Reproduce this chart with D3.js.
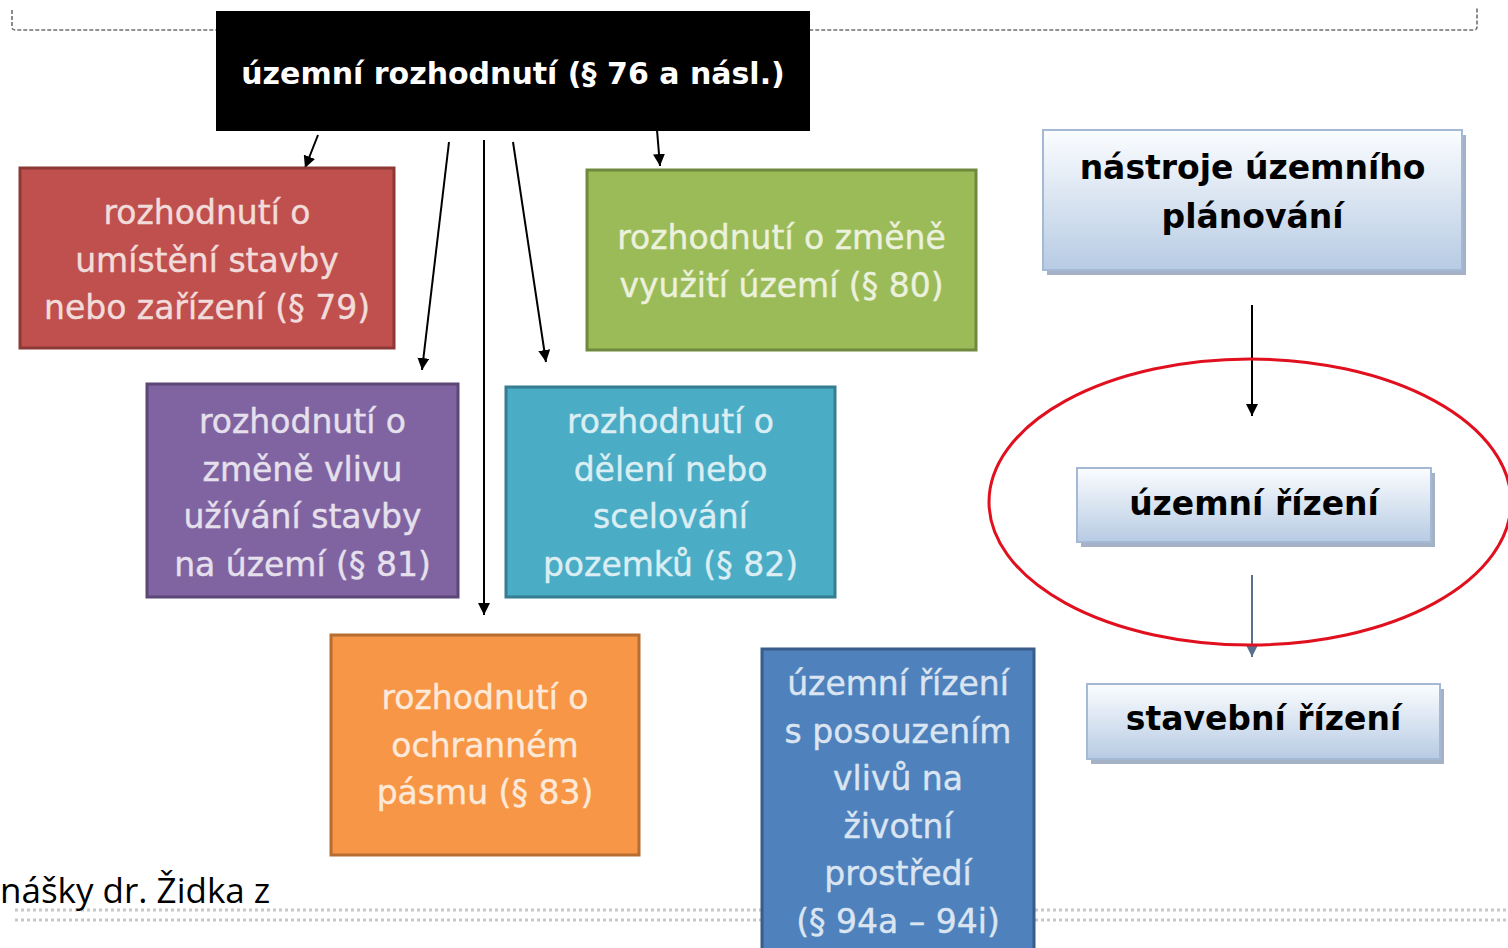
<!DOCTYPE html>
<html><head><meta charset="utf-8">
<script src="https://cdn.jsdelivr.net/npm/d3@7"></script>
<style>html,body{margin:0;padding:0;background:#fff;overflow:hidden}</style>
</head><body>
<svg id="c" width="1508" height="948"></svg>
<script>
// ---- content ----
const topLabel = "územní rozhodnutí (§ 76 a násl.)";
const boxLabels = [
  ["rozhodnutí o","umístění stavby","nebo zařízení (§ 79)"],
  ["rozhodnutí o změně","využití území (§ 80)"],
  ["rozhodnutí o","změně vlivu","užívání stavby","na území (§ 81)"],
  ["rozhodnutí o","dělení nebo","scelování","pozemků (§ 82)"],
  ["rozhodnutí o","ochranném","pásmu (§ 83)"],
  ["územní řízení","s posouzením","vlivů na","životní","prostředí","(§ 94a – 94i)"]
];
const processLabels = [["nástroje územního","plánování"],["územní řízení"],["stavební řízení"]];
const footerText = "nášky dr. Židka z";

// ---- layout & style ----
const boxRects = [[20,168,374,180],[587,170,389,180],[147,384,311,213],[506,387,329,210],[331,635,308,220],[762,649,272,310]];
const boxFill = ["#C0504D","#9BBB59","#8064A2","#4BACC6","#F79646","#4F81BD"];
const boxStroke = ["#8C3836","#71893F","#5C4776","#357D91","#B66D31","#385D8A"];
const boxText = ["#F2DCDB","#EBF1DD","#E5E0EC","#DBEEF3","#FDE9D9","#DBE5F1"];
const procRects = [[1043,130,419,140],[1077,468,354,74],[1087,684,353,75]];
const arrows = [[318,135,305,168,"#000"],[449,142,422,370,"#000"],[484,140,484,615,"#000"],[513,142,546,362,"#000"],[657,130,660,166,"#000"],[1252,305,1252,416,"#000"],[1252,575,1252,657,"#5a6f8f"]];

const svg = d3.select("#c");
const defs = svg.append("defs");
const g = defs.append("linearGradient").attr("id","pg").attr("x1",0).attr("y1",0).attr("x2",0).attr("y2",1);
g.append("stop").attr("offset","0%").attr("stop-color","#fbfdff");
g.append("stop").attr("offset","100%").attr("stop-color","#b7cbe3");
["#000","#5a6f8f"].forEach((c,i)=>{
  defs.append("marker").attr("id","ah"+i).attr("viewBox","0 0 10 10").attr("refX",10).attr("refY",5)
   .attr("markerWidth",12).attr("markerHeight",12).attr("orient","auto").attr("markerUnits","userSpaceOnUse")
   .append("path").attr("d","M0,0L10,5L0,10z").attr("fill",c);
});

// top dashed frame
svg.append("path").attr("d","M12,10 V27 Q12,30 15,30 H1474 Q1477,30 1477,27 V8")
  .attr("fill","none").attr("stroke","#6f6f6f").attr("stroke-width",1.6).attr("stroke-dasharray","4,2");

// bottom dotted lines
[910,920].forEach(y=>svg.append("line").attr("x1",15).attr("x2",1508).attr("y1",y).attr("y2",y)
  .attr("stroke","#c8c8c8").attr("stroke-width",3).attr("stroke-dasharray","3,3"));

// footer text
svg.append("text").attr("x",0).attr("y",903).attr("font-family","'Liberation Sans Narrow','Open Sans',sans-serif")
  .attr("font-size",35).attr("fill","#000").text(footerText);

// black top box
svg.append("rect").attr("x",216).attr("y",11).attr("width",594).attr("height",120).attr("fill","#000");
svg.append("text").attr("x",513).attr("y",84).attr("text-anchor","middle").attr("font-family","'DejaVu Sans',sans-serif")
  .attr("font-weight","bold").attr("font-size",30).attr("fill","#fff").text(topLabel);

// arrows
arrows.forEach(a=>{
  svg.append("line").attr("x1",a[0]).attr("y1",a[1]).attr("x2",a[2]).attr("y2",a[3])
    .attr("stroke",a[4]).attr("stroke-width",2).attr("marker-end",`url(#ah${a[4]==="#000"?0:1})`);
});

// colored boxes
boxRects.forEach((r,i)=>{
  svg.append("rect").attr("x",r[0]).attr("y",r[1]).attr("width",r[2]).attr("height",r[3])
    .attr("fill",boxFill[i]).attr("stroke",boxStroke[i]).attr("stroke-width",3);
});
const lineH = 47.5;
const firstY = [224,249,433,433,709,695];
boxLabels.forEach((lines,i)=>{
  const r = boxRects[i];
  const t = svg.append("text").attr("text-anchor","middle").attr("font-family","'DejaVu Sans',sans-serif")
    .attr("font-size",33).attr("fill",boxText[i]).attr("stroke",boxText[i]).attr("stroke-width",0.4);
  lines.forEach((l,j)=>t.append("tspan").attr("x",r[0]+r[2]/2).attr("y",firstY[i]+j*lineH).text(l));
});

// red ellipse
svg.append("ellipse").attr("cx",1250).attr("cy",502).attr("rx",261).attr("ry",143)
  .attr("fill","none").attr("stroke","#e0101e").attr("stroke-width",3);

// process boxes
const procFirstY = [179,515,730];
procRects.forEach((r,i)=>{
  svg.append("rect").attr("x",r[0]+4).attr("y",r[1]+5).attr("width",r[2]).attr("height",r[3]).attr("fill","#8e9fb8").attr("opacity",0.8);
  svg.append("rect").attr("x",r[0]).attr("y",r[1]).attr("width",r[2]).attr("height",r[3])
    .attr("fill","url(#pg)").attr("stroke","#a3b9d6").attr("stroke-width",2);
  const t = svg.append("text").attr("text-anchor","middle").attr("font-family","'DejaVu Sans',sans-serif")
    .attr("font-weight","bold").attr("font-size",33).attr("fill","#000");
  processLabels[i].forEach((l,j)=>t.append("tspan").attr("x",r[0]+r[2]/2).attr("y",procFirstY[i]+j*49).text(l));
});
</script>
</body></html>
